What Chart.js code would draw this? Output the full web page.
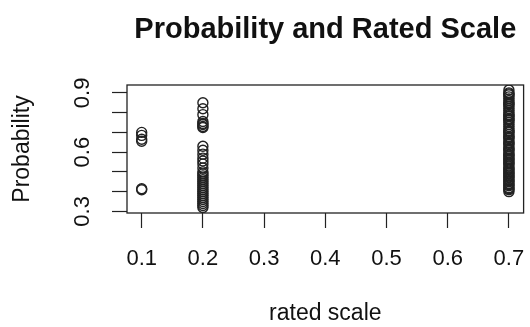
<!DOCTYPE html>
<html>
<head>
<meta charset="utf-8">
<script src="https://cdn.jsdelivr.net/npm/chart.js@4/dist/chart.umd.min.js"></script>
<style>
  html, body { margin: 0; padding: 0; background: #fff; }
  #wrap { width: 530px; height: 327px; }
</style>
</head>
<body>
<div id="wrap"><canvas id="chart"></canvas></div>
<script>
// values, one list per rated-scale column
const scaleLow = 0.1;
const probLow = [0.70, 0.685, 0.665, 0.655, 0.415, 0.41];

const scaleMid = 0.2;
const probMid = [0.85, 0.82, 0.79, 0.755, 0.745, 0.74, 0.73, 0.725,
  0.63, 0.61, 0.59, 0.57, 0.555, 0.54, 0.52, 0.50, 0.49, 0.48, 0.47, 0.46,
  0.45, 0.44, 0.43, 0.42, 0.41, 0.40, 0.39, 0.38, 0.37, 0.36, 0.35, 0.34, 0.33, 0.32];

const scaleHigh = 0.7;
const probHigh = [0.915, 0.90, 0.895, 0.89, 0.88, 0.87, 0.86, 0.85, 0.845, 0.84,
  0.83, 0.82, 0.81, 0.80, 0.79, 0.785, 0.78, 0.77, 0.765, 0.76, 0.75, 0.74,
  0.73, 0.72, 0.71, 0.705, 0.70, 0.69, 0.68, 0.675, 0.67, 0.66, 0.65, 0.645,
  0.64, 0.63, 0.62, 0.615, 0.61, 0.60, 0.59, 0.585, 0.58, 0.57, 0.565, 0.56,
  0.55, 0.545, 0.54, 0.53, 0.52, 0.515, 0.51, 0.50, 0.495, 0.49, 0.48, 0.475,
  0.47, 0.46, 0.455, 0.45, 0.44, 0.435, 0.43, 0.42, 0.415, 0.41, 0.40];

const xTicks = [0.1, 0.2, 0.3, 0.4, 0.5, 0.6, 0.7];
const yTicks = [0.3, 0.4, 0.5, 0.6, 0.7, 0.8, 0.9];
const yLabels = [0.3, 0.6, 0.9];

const titleText = 'Probability and Rated Scale';
const xTitle = 'rated scale';
const yTitle = 'Probability';

const FONT = '"Liberation Sans", Arial, Helvetica, sans-serif';
const INK = '#222';

const points = [];
probLow.forEach(p => points.push({ x: scaleLow, y: p }));
probMid.forEach(p => points.push({ x: scaleMid, y: p }));
probHigh.forEach(p => points.push({ x: scaleHigh, y: p }));

// box round the plot, main title, and the upright y labels like base R draws them
const rPlotBits = {
  id: 'rPlotBits',
  afterDraw(chart) {
    const ctx = chart.ctx;
    const a = chart.chartArea;
    ctx.save();
    ctx.strokeStyle = INK;
    ctx.lineWidth = 1.3;
    ctx.strokeRect(a.left, a.top, a.right - a.left, a.bottom - a.top);

    ctx.fillStyle = '#111';
    ctx.font = 'bold 29px ' + FONT;
    ctx.textAlign = 'center';
    ctx.textBaseline = 'alphabetic';
    ctx.fillText(titleText, (a.left + a.right) / 2, 38);

    const ys = chart.scales.y;
    ctx.font = '22px ' + FONT;
    ctx.textBaseline = 'middle';
    yLabels.forEach(v => {
      ctx.save();
      ctx.translate(83, ys.getPixelForValue(v));
      ctx.rotate(-Math.PI / 2);
      ctx.fillText(v.toFixed(1), 0, 0);
      ctx.restore();
    });
    ctx.restore();
  }
};

new Chart(document.getElementById('chart'), {
  type: 'scatter',
  data: {
    datasets: [{
      data: points,
      pointStyle: 'circle',
      pointRadius: 5,
      pointHoverRadius: 5,
      borderColor: INK,
      borderWidth: 1.4,
      backgroundColor: 'rgba(0,0,0,0)'
    }]
  },
  options: {
    responsive: true,
    maintainAspectRatio: false,
    animation: false,
    layout: { padding: { top: 85, left: 0, right: 0, bottom: 0 } },
    plugins: {
      legend: { display: false },
      tooltip: { enabled: false }
    },
    scales: {
      x: {
        type: 'linear',
        min: 0.076,
        max: 0.724,
        afterBuildTicks: s => { s.ticks = xTicks.map(v => ({ value: v })); },
        afterFit: s => { s.paddingRight = 0; s.paddingLeft = 0; s.height = 114; },
        grid: { drawOnChartArea: false, tickLength: 15, tickColor: INK, tickWidth: 1.2 },
        border: { display: false },
        ticks: {
          color: '#111',
          font: { family: FONT, size: 22 },
          padding: 18,
          maxRotation: 0,
          callback: v => v.toFixed(1)
        },
        title: {
          display: true,
          text: xTitle,
          color: '#111',
          font: { family: FONT, size: 23 },
          padding: { top: 19, bottom: 0 }
        }
      },
      y: {
        type: 'linear',
        min: 0.292,
        max: 0.94,
        afterBuildTicks: s => { s.ticks = yTicks.map(v => ({ value: v })); },
        afterFit: s => { s.width = 127; },
        grid: { drawOnChartArea: false, tickLength: 15, tickColor: INK, tickWidth: 1.2 },
        border: { display: false },
        ticks: { display: false },
        title: {
          display: true,
          text: yTitle,
          color: '#111',
          font: { family: FONT, size: 23 },
          padding: { top: 9, bottom: 0 }
        }
      }
    }
  },
  plugins: [rPlotBits]
});
</script>
</body>
</html>
